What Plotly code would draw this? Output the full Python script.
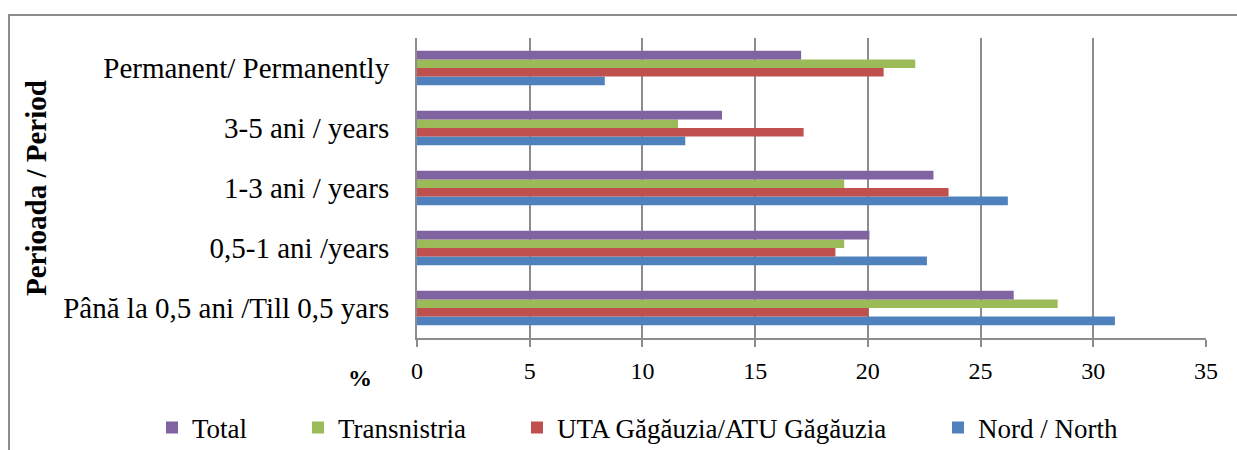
import plotly.graph_objects as go

categories = [
    "Până la 0,5 ani /Till 0,5 yars",
    "0,5-1 ani /years",
    "1-3 ani / years",
    "3-5 ani / years",
    "Permanent/ Permanently",
]
nord = [30.96, 22.62, 26.21, 11.90, 8.33]
uta = [20.03, 18.56, 23.58, 17.15, 20.70]
transnistria = [28.42, 18.95, 18.95, 11.58, 22.10]
total = [26.47, 20.07, 22.91, 13.53, 17.04]

series_names = ["Nord / North", "UTA Găgăuzia/ATU Găgăuzia", "Transnistria", "Total"]
series_values = [nord, uta, transnistria, total]
series_colors = ["#4F81BD", "#C0504D", "#9BBB59", "#8064A2"]
legend_ids = ["legend5", "legend4", "legend3", "legend2"]
x_ticks = [0, 5, 10, 15, 20, 25, 30, 35]

FONT = "Liberation Serif, Times New Roman, serif"
W, H = 1237, 450
L, R, T, B = 417, 31, 38, 112
PW, PH = W - L - R, H - T - B

def px_x(p):
    return (p - L) / PW

def px_y(p):
    return (H - B - p) / PH

fig = go.Figure()
for name, vals, col, lg in zip(series_names, series_values, series_colors, legend_ids):
    fig.add_trace(go.Bar(
        y=categories, x=vals, name=name, orientation="h",
        marker=dict(color=col, line=dict(width=0)),
        legend=lg,
    ))

legend_text_x = {"legend2": 192, "legend3": 338, "legend4": 557, "legend5": 978}
leg_common = dict(orientation="h", yanchor="middle", xanchor="left",
                  font=dict(family=FONT, size=27, color="#000000"),
                  bgcolor="rgba(0,0,0,0)", borderwidth=0)
legends = {}
for k, tx in legend_text_x.items():
    legends[k] = dict(x=px_x(tx - 40), y=px_y(428), **leg_common)

fig.update_layout(
    width=W, height=H,
    margin=dict(l=L, r=R, t=T, b=B, autoexpand=False),
    paper_bgcolor="white", plot_bgcolor="white",
    barmode="group", bargap=0.427, bargroupgap=0,
    font=dict(family=FONT, size=24, color="#000000"),
    showlegend=True,
    **legends,
    xaxis=dict(
        range=[0, 35], tickvals=x_ticks, ticktext=[str(v) for v in x_ticks],
        showgrid=True, gridcolor="#8C8C8C", gridwidth=2,
        zeroline=False, showline=True, linecolor="#8C8C8C", linewidth=2,
        ticks="outside", ticklen=7, tickcolor="#8C8C8C", tickwidth=2,
        ticklabelstandoff=3,
        tickfont=dict(family=FONT, size=24, color="#000000"),
        fixedrange=True,
    ),
    yaxis=dict(
        type="category", categoryorder="array", categoryarray=categories,
        showgrid=False, zeroline=False, showline=True, linecolor="#8C8C8C", linewidth=2,
        ticks="", ticklabelstandoff=20,
        tickfont=dict(family=FONT, size=29, color="#000000"),
        fixedrange=True,
    ),
    annotations=[
        dict(text="<b>Perioada / Period</b>", xref="paper", yref="paper",
             x=px_x(36), y=px_y(188), textangle=-90, showarrow=False,
             xanchor="center", yanchor="middle",
             font=dict(family=FONT, size=29, color="#000000")),
        dict(text="<b>%</b>", xref="paper", yref="paper",
             x=px_x(360), y=px_y(378), showarrow=False,
             xanchor="center", yanchor="middle",
             font=dict(family=FONT, size=24, color="#000000")),
    ],
    shapes=[
        dict(type="rect", xref="paper", yref="paper",
             x0=px_x(9), x1=px_x(1245), y0=px_y(470), y1=px_y(15),
             line=dict(color="#8C8C8C", width=2), fillcolor="rgba(0,0,0,0)",
             layer="below"),
    ],
)

fig.write_html("out.html", config={"displayModeBar": False},
               post_script="document.body.style.margin='0px';document.body.style.overflow='hidden';")
